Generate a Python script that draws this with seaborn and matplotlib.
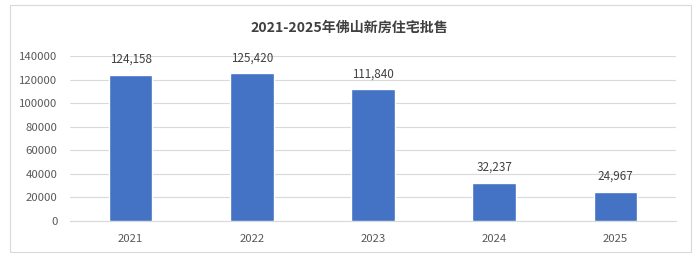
import matplotlib
matplotlib.use("Agg")
import matplotlib.pyplot as plt
from matplotlib.patches import Rectangle
import seaborn as sns
import pandas as pd

years = ["2021", "2022", "2023", "2024", "2025"]
values = [124158, 125420, 111840, 32237, 24967]
title = "2021-2025年佛山新房住宅批售"

sns.set_theme(style="white")
plt.rcParams['font.family'] = ['Noto Sans CJK SC', 'DejaVu Sans']

df = pd.DataFrame({"year": years, "value": values})

fig = plt.figure(figsize=(6.99, 2.58), dpi=100)
fig.patch.set_facecolor("white")
ax = fig.add_axes([70/699, 1-221/258, (676-70)/699, (221-56)/258])

sns.barplot(data=df, x="year", y="value", color="#4472C4", saturation=1,
            width=0.36, ax=ax, zorder=3)

ax.set_ylim(0, 140000)
ax.set_yticks(range(0, 140001, 20000))
ax.set_yticklabels([str(v) for v in range(0, 140001, 20000)])
ax.grid(axis="y", color="#d9d9d9", linewidth=0.8, zorder=0)
ax.set_axisbelow(True)
for s in ax.spines.values():
    s.set_visible(False)
ax.spines["bottom"].set_visible(True)
ax.spines["bottom"].set_color("#d9d9d9")
ax.spines["bottom"].set_linewidth(0.8)
ax.set_xlabel("")
ax.set_ylabel("")
ax.tick_params(axis="both", length=0, labelsize=8.2, colors="#595959")
ax.tick_params(axis="y", pad=9)
ax.tick_params(axis="x", pad=9)

for i, v in enumerate(values):
    ax.annotate(f"{v:,}", (i, v), xytext=(0, 6.5), textcoords="offset points",
                ha="center", va="bottom", fontsize=8.4, color="#404040")

fig.text(0.5, 1-28/258, title, ha="center", va="center", fontsize=10.1,
         fontweight="bold", color="#404040")

fig.patches.append(Rectangle((10/699, 1-252/258), (691-10)/699, (252-5)/258,
                             transform=fig.transFigure, fill=False,
                             edgecolor="#d9d9d9", linewidth=0.8))

fig.savefig("out.png", dpi=100)
